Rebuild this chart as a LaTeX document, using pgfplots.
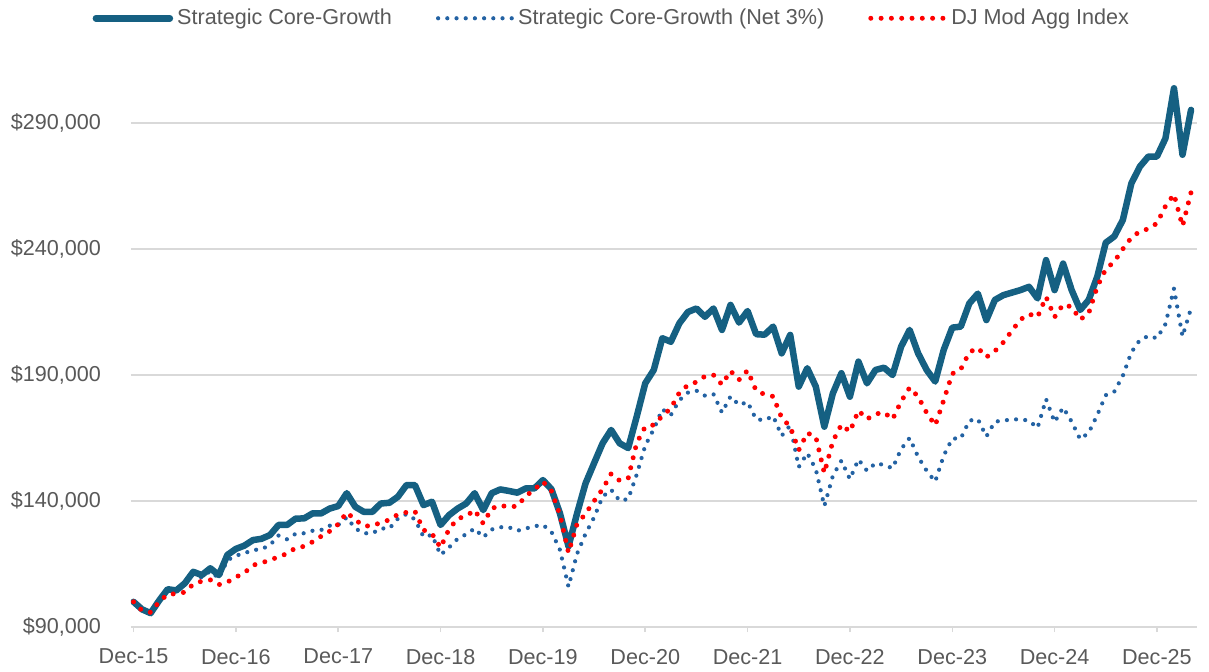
\documentclass[border=0pt]{standalone}
\usepackage{fontspec}
\setmainfont{Liberation Sans}
\usepackage{pgfplots}
\usepackage{pgfplotstable}
\pgfplotsset{compat=1.18}
\definecolor{maincol}{RGB}{21,96,130}
\definecolor{netcol}{RGB}{35,98,163}
\definecolor{djcol}{RGB}{255,0,0}
\definecolor{gridcol}{RGB}{217,217,217}
\definecolor{txtcol}{RGB}{89,89,89}

\pgfplotstableread{
i main net dj
0 100.0 100.0 100.0
1 97.0 96.8 96.5
2 95.5 95.2 95.8
3 100.5 100.2 100.0
4 105.0 104.5 103.0
5 104.5 104.0 103.2
6 107.3 106.6 103.8
7 111.9 111.0 107.0
8 110.6 109.6 108.2
9 113.3 112.2 108.7
10 110.6 109.3 106.8
11 118.6 116.5 107.8
12 121.0 118.3 109.8
13 122.3 119.3 111.5
14 124.5 120.5 114.5
15 125.0 120.9 115.5
16 126.5 122.5 116.5
17 130.5 126.3 117.9
18 130.5 124.8 119.1
19 133.0 127.0 121.4
20 133.1 127.2 122.0
21 135.1 128.2 123.8
22 135.1 128.5 126.0
23 137.0 130.2 128.0
24 138.0 130.5 130.8
25 143.1 133.5 135.5
26 137.7 129.1 132.5
27 135.7 127.2 130.1
28 135.7 127.2 130.1
29 139.0 129.1 131.5
30 139.3 129.1 132.5
31 141.7 133.0 134.7
32 146.3 134.8 135.5
33 146.3 132.7 135.9
34 138.4 125.8 128.5
35 139.7 126.5 127.0
36 130.5 118.6 121.5
37 134.4 121.6 128.9
38 137.0 125.0 133.0
39 139.0 126.8 134.0
40 143.1 129.1 136.4
41 136.4 125.6 131.1
42 143.1 128.7 137.0
43 144.6 129.6 138.3
44 144.0 129.6 137.6
45 143.3 128.2 138.0
46 145.0 129.1 142.0
47 145.0 130.0 144.5
48 148.3 130.5 147.7
49 144.7 127.8 144.0
50 135.1 120.6 134.5
51 122.0 106.0 119.5
52 135.0 119.0 130.8
53 147.0 127.0 135.0
54 155.0 133.5 140.0
55 162.9 141.7 144.7
56 168.2 144.5 150.8
57 162.9 140.1 148.1
58 161.0 140.8 149.0
59 173.5 150.5 163.0
60 186.7 162.0 169.5
61 192.0 168.5 170.2
62 204.6 176.4 173.7
63 203.2 174.1 176.8
64 210.5 180.0 183.0
65 215.0 183.0 186.0
66 216.4 183.8 187.2
67 213.1 181.8 189.5
68 216.4 182.4 190.0
69 207.9 175.1 186.2
70 217.8 181.5 191.6
71 210.8 178.1 188.1
72 215.4 179.3 191.8
73 206.2 172.4 183.8
74 206.0 172.1 182.3
75 209.2 173.7 181.5
76 198.6 165.9 173.0
77 205.9 170.0 169.5
78 185.4 153.5 160.2
79 192.7 159.0 167.0
80 185.4 152.6 165.5
81 169.5 138.0 151.1
82 182.7 150.0 163.7
83 190.7 156.0 170.3
84 181.4 148.7 167.5
85 195.3 156.5 175.9
86 186.7 152.0 172.5
87 192.0 155.0 174.5
88 192.9 154.3 175.2
89 190.0 153.0 172.4
90 201.2 160.6 179.5
91 207.9 165.0 185.0
92 198.6 157.5 181.4
93 192.0 152.0 175.0
94 187.4 147.7 170.0
95 200.0 158.0 180.0
96 208.8 164.8 190.5
97 209.2 164.8 192.3
98 218.4 171.9 199.0
99 222.3 172.5 200.8
100 211.8 165.6 197.1
101 219.8 171.5 199.5
102 221.7 171.9 203.0
103 222.7 172.4 207.6
104 223.7 172.4 212.0
105 225.0 171.9 214.2
106 220.4 169.0 213.0
107 235.6 180.4 221.0
108 223.7 171.3 213.0
109 234.2 177.1 218.0
110 223.7 171.5 217.0
111 215.8 164.5 212.0
112 219.8 167.1 214.5
113 229.0 174.1 225.0
114 242.5 182.0 232.0
115 245.0 183.4 235.0
116 251.5 189.7 240.0
117 266.0 199.0 244.5
118 272.7 203.9 247.0
119 276.7 205.5 248.0
120 276.7 204.6 250.2
121 283.9 210.2 257.0
122 303.8 224.3 261.7
123 277.4 205.3 249.1
124 295.2 216.5 262.5
}\datatable

\tikzset{
  mainstyle/.style={maincol, line width=3.25pt, line join=round, line cap=round},
  netstyle/.style={netcol, line width=2.1pt, line cap=round, dash pattern=on 0pt off 4.6pt},
  djstyle/.style={djcol, line width=2.5pt, line cap=round, dash pattern=on 0pt off 5.15pt},
}

\begin{document}
\begin{tikzpicture}
\begin{axis}[
  scale only axis,
  width=533pt, height=277.2pt,
  xmin=-0.3, xmax=124.7,
  ymin=90, ymax=310,
  axis x line*=bottom,
  axis y line*=left,
  axis line style={-},
  x axis line style={gridcol, line width=0.75pt},
  y axis line style={draw=none},
  xtick={0,12,...,120},
  xticklabels={Dec-15,Dec-16,Dec-17,Dec-18,Dec-19,Dec-20,Dec-21,Dec-22,Dec-23,Dec-24,Dec-25},
  ytick={90,140,190,240,290},
  yticklabels={{\$90,000},{\$140,000},{\$190,000},{\$240,000},{\$290,000}},
  tick align=outside,
  major tick length=2.5pt,
  xtick style={gridcol, line width=0.75pt},
  ytick style={draw=none},
  ymajorgrids,
  grid style={gridcol, line width=0.75pt},
  tick label style={font=\fontsize{10.8}{13}\selectfont, text=txtcol},
  yticklabel style={xshift=-9pt},
  xticklabel style={yshift=-5pt},
  legend style={at={(0.452,1.098)}, anchor=center, draw=none, fill=none,
    legend columns=3, font=\fontsize{10.8}{13}\selectfont, text=txtcol,
    /tikz/every even column/.append style={column sep=20pt}},
  legend cell align=left,
  legend image code/.code={\draw[#1] (0pt,0pt) -- (37pt,0pt);},
]
\addplot[netstyle, forget plot] table[x=i, y=net] {\datatable};
\addplot[mainstyle] table[x=i, y=main] {\datatable};
\addlegendentry{Strategic Core-Growth}
\addlegendimage{netstyle}
\addlegendentry{Strategic Core-Growth (Net 3\%)}
\addplot[djstyle] table[x=i, y=dj] {\datatable};
\addlegendentry{DJ Mod Agg Index}
\end{axis}
\pgfresetboundingbox
\path[use as bounding box] ([shift={(-65.5pt,-22pt)}]current axis.south west) rectangle ([shift={(6pt,36.3pt)}]current axis.north east);
\end{tikzpicture}
\end{document}
